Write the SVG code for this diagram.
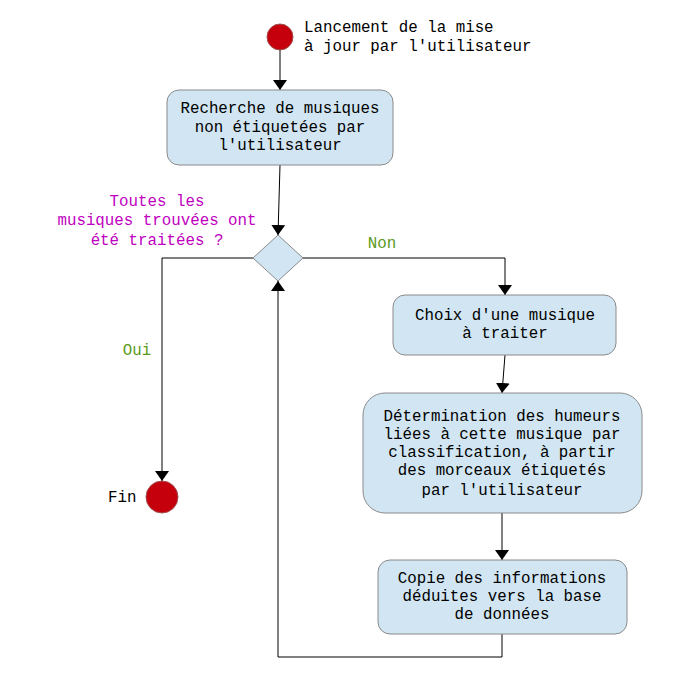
<svg xmlns="http://www.w3.org/2000/svg" width="680" height="680" viewBox="0 0 680 680">
<style>
text{font-family:"Liberation Mono","DejaVu Sans Mono",monospace;font-size:15.8px;fill:#000}
.c{text-anchor:middle}
.box{fill:#d1e6f2;stroke:#8a8a8a;stroke-width:1}
.ln{fill:none;stroke:#000;stroke-width:1}
.q{fill:#c000c0}
.g{fill:#5a9a1a}
.dot{fill:#c5000c;stroke:#a05050;stroke-width:1}
</style>
<defs>
<marker id="ah" viewBox="0 0 10 14" refX="10" refY="7" markerWidth="10" markerHeight="14" markerUnits="userSpaceOnUse" orient="auto">
<path d="M0,0 L10,7 L0,14 Z" fill="#000"/>
</marker>
</defs>
<rect width="680" height="680" fill="#fff"/>
<g id="connectors">
<path class="ln" d="M280,50 L280,90" marker-end="url(#ah)"/>
<path class="ln" d="M280,165 L278,235" marker-end="url(#ah)"/>
<path class="ln" d="M253,258 L162,258 L162,481" marker-end="url(#ah)"/>
<path class="ln" d="M303,258 L505,258 L505,295" marker-end="url(#ah)"/>
<path class="ln" d="M505,355 L502,393" marker-end="url(#ah)"/>
<path class="ln" d="M502,513 L502,560" marker-end="url(#ah)"/>
<path class="ln" d="M502,634 L502,657 L278,657 L278,281" marker-end="url(#ah)"/>
<text class="g" x="382" y="248" text-anchor="middle">Non</text>
<text class="g" x="137" y="355" text-anchor="middle">Oui</text>
</g>
<g id="start">
<circle class="dot" cx="280" cy="37" r="13"/>
<text x="304" y="32">Lancement de la mise</text>
<text x="304" y="51">à jour par l'utilisateur</text>
</g>
<g id="recherche">
<rect class="box" x="167" y="90" width="226" height="75" rx="12"/>
<text class="c" x="280" y="113">Recherche de musiques</text>
<text class="c" x="280" y="132">non étiquetées par</text>
<text class="c" x="280" y="150">l'utilisateur</text>
</g>
<g id="decision">
<path class="box" d="M278,235 L303,258 L278,281 L253,258 Z"/>
<text class="c q" x="157" y="206">Toutes les</text>
<text class="c q" x="157" y="225">musiques trouvées ont</text>
<text class="c q" x="157" y="245">été traitées ?</text>
</g>
<g id="fin">
<circle class="dot" cx="162" cy="497" r="16"/>
<text x="108" y="502">Fin</text>
</g>
<g id="choix">
<rect class="box" x="393" y="295" width="223" height="60" rx="12"/>
<text class="c" x="505" y="320">Choix d'une musique</text>
<text class="c" x="505" y="338">à traiter</text>
</g>
<g id="determination">
<rect class="box" x="363" y="393" width="279" height="120" rx="22"/>
<text class="c" x="502" y="421">Détermination des humeurs</text>
<text class="c" x="502" y="439">liées à cette musique par</text>
<text class="c" x="502" y="457">classification, à partir</text>
<text class="c" x="502" y="475">des morceaux étiquetés</text>
<text class="c" x="502" y="495">par l'utilisateur</text>
</g>
<g id="copie">
<rect class="box" x="378" y="560" width="249" height="74" rx="12"/>
<text class="c" x="502" y="583">Copie des informations</text>
<text class="c" x="502" y="601">déduites vers la base</text>
<text class="c" x="502" y="619">de données</text>
</g>
</svg>
